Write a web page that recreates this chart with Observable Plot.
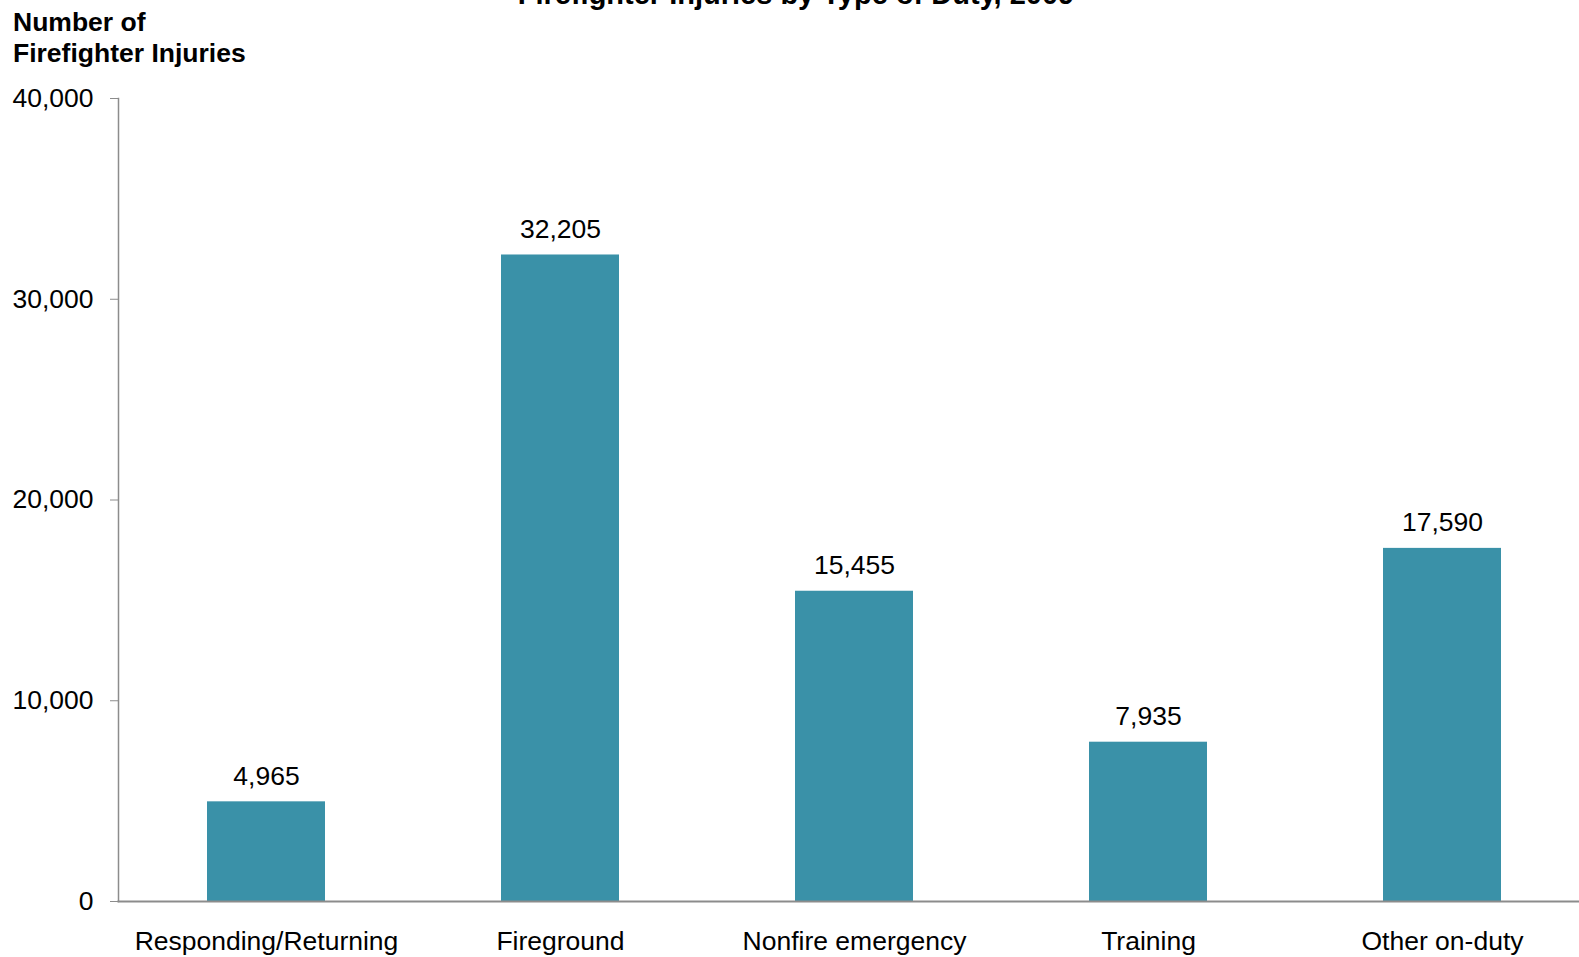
<!DOCTYPE html>
<html>
<head>
<meta charset="utf-8">
<script src="https://cdn.jsdelivr.net/npm/d3@7"></script>
<script src="https://cdn.jsdelivr.net/npm/@observablehq/plot@0.6"></script>
<style>
  html, body { margin: 0; padding: 0; background: #fff; overflow: hidden; }
  #wrap { position: relative; width: 1579px; height: 957px; font-family: "Liberation Sans", Arial, sans-serif; }
  .title { position: absolute; top: -21px; left: 796px; transform: translateX(-50%); white-space: nowrap;
           font-size: 29px; font-weight: bold; line-height: 30px; color: #000; }
  .ylab { position: absolute; top: 7.2px; left: 13px; font-size: 26.5px; font-weight: bold; line-height: 30.6px; color: #000; }
  #chart { position: absolute; top: 0; left: 0; }
</style>
</head>
<body>
<div id="wrap">
  <div id="chart"></div>
  <div class="title">Firefighter Injuries by Type of Duty, 2009</div>
  <div class="ylab">Number of<br>Firefighter Injuries</div>
</div>
<script>
const categories = ["Responding/Returning", "Fireground", "Nonfire emergency", "Training", "Other on-duty"];
const injuries = [4965, 32205, 15455, 7935, 17590];
const yTicks = [0, 10000, 20000, 30000, 40000];

const data = categories.map((c, i) => ({category: c, value: injuries[i]}));
const fmt = d3.format(",");

const chart = Plot.plot({
  width: 1579,
  height: 957,
  marginTop: 98,
  marginBottom: 56,
  marginLeft: 118,
  marginRight: 0,
  style: {fontFamily: "Liberation Sans, Arial, sans-serif", fontSize: "26.5px", color: "#000", background: "#fff"},
  x: {domain: categories, range: [117.5, 1591], paddingInner: 0.6, paddingOuter: 0.3},
  y: {domain: [0, 40000]},
  marks: [
    Plot.barY(data, {x: "category", y: "value", fill: "#3A91A8"}),
    Plot.text(data, {x: "category", y: "value", text: d => fmt(d.value), lineAnchor: "bottom", dy: -17, fill: "#000", fontSize: 26.5}),
    Plot.axisY({ticks: yTicks, tickFormat: fmt, tickSize: 8, tickPadding: 17, stroke: "#8c8c8c", fill: "#000", label: null, fontSize: 26.5}),
    Plot.axisX({tickSize: 0, tickPadding: 30, label: null, fill: "#000", fontSize: 26.5}),
    Plot.frame({anchor: "left", stroke: "#8c8c8c", strokeWidth: 1.5}),
    Plot.frame({anchor: "bottom", stroke: "#8c8c8c", strokeWidth: 2})
  ]
});
document.getElementById("chart").appendChild(chart);
</script>
</body>
</html>
